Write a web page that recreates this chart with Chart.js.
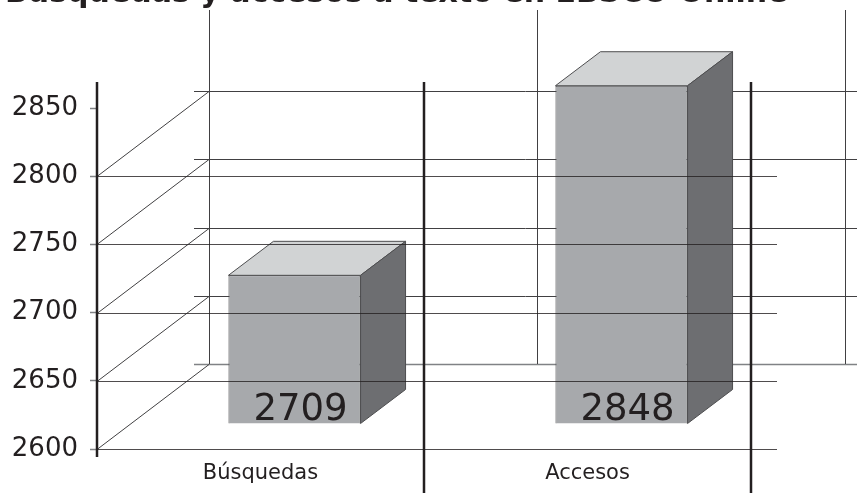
<!DOCTYPE html>
<html>
<head>
<meta charset="utf-8">
<title>Búsquedas y accesos</title>
<script src="https://cdn.jsdelivr.net/npm/chart.js@4"></script>
<style>
  html, body { margin: 0; padding: 0; background: #fff; overflow: hidden; }
  canvas { display: block; }
</style>
</head>
<body>
<canvas id="barChart" width="857" height="493"></canvas>
<script>
const chartTitle = 'Búsquedas y accesos a texto en EBSCO Online';
const categories = ['Búsquedas', 'Accesos'];
const values = [2709, 2848];
const yTicks = [2600, 2650, 2700, 2750, 2800, 2850];

const FONT = '"DejaVu Sans", sans-serif';
const INK = '#231f20';
// floor depth of the fake 3D box, and where the bar stands on it
const depthX = 112, depthY = -85;
const barDx = 34, barDy = -25;
const boxDx = 45, boxDy = -34;

function line(ctx, x1, y1, x2, y2, color, width) {
    ctx.strokeStyle = color;
    ctx.lineWidth = width;
    ctx.beginPath();
    ctx.moveTo(x1, y1);
    ctx.lineTo(x2, y2);
    ctx.stroke();
}

function poly(ctx, pts, fill) {
    ctx.fillStyle = fill;
    ctx.strokeStyle = '#4d4d4f';
    ctx.lineWidth = 1;
    ctx.beginPath();
    pts.forEach((p, i) => i ? ctx.lineTo(p[0], p[1]) : ctx.moveTo(p[0], p[1]));
    ctx.closePath();
    ctx.fill();
    ctx.stroke();
}

const fake3d = {
    id: 'fake3d',
    beforeDatasetsDraw(chart) {
        const ctx = chart.ctx, y = chart.scales.y, area = chart.chartArea;
        ctx.save();
        // back wall and floor lines
        yTicks.slice(0, -1).forEach(v => {
            const py = Math.round(y.getPixelForValue(v)) + 0.5;
            line(ctx, area.left + depthX - 15, py + depthY, 857, py + depthY, v === 2600 ? '#808285' : '#414042', v === 2600 ? 1.5 : 1);
            line(ctx, area.left, py, area.left + depthX, py + depthY, '#414042', 1);
        });
        const backBottom = y.getPixelForValue(yTicks[0]) + depthY;
        const catW = (area.right - area.left) / categories.length;
        [area.left + depthX, area.left + catW + depthX + 1, area.right + 94].forEach(x => {
            line(ctx, x + 0.5, 10, x + 0.5, backBottom, '#414042', 1);
        });
        ctx.restore();
    },
    beforeDatasetDraw(chart, args) {
        const ctx = chart.ctx;
        ctx.save();
        ctx.translate(barDx, barDy);
        args.meta.data.forEach(bar => {
            const l = bar.x - bar.width / 2, r = bar.x + bar.width / 2;
            poly(ctx, [[l, bar.y], [l + boxDx, bar.y + boxDy], [r + boxDx, bar.y + boxDy], [r, bar.y]], '#d1d3d4');
            poly(ctx, [[r, bar.y], [r + boxDx, bar.y + boxDy], [r + boxDx, bar.base + boxDy], [r, bar.base]], '#6d6e71');
        });
    },
    afterDatasetDraw(chart) {
        chart.ctx.restore();
    },
    afterDatasetsDraw(chart) {
        const ctx = chart.ctx, y = chart.scales.y, area = chart.chartArea;
        ctx.save();
        // front grid runs over the bars
        yTicks.slice(0, -1).forEach(v => {
            const py = Math.round(y.getPixelForValue(v)) + 0.5;
            line(ctx, area.left, py, 777, py, 'rgba(35,31,32,0.8)', 1);
        });
        line(ctx, area.left, 82, area.left, 457, INK, 2.5);
        const catW = (area.right - area.left) / categories.length;
        categories.forEach((c, i) => {
            const x = area.left + catW * (i + 1);
            line(ctx, x, 82, x, 493, INK, 2.5);
        });
        // value printed on the front of each bar
        ctx.fillStyle = INK;
        ctx.font = '37px ' + FONT;
        ctx.textAlign = 'right';
        ctx.textBaseline = 'alphabetic';
        chart.getDatasetMeta(0).data.forEach((bar, i) => {
            ctx.fillText(String(values[i]), bar.x + bar.width / 2 + barDx - 13, bar.base + barDy - 4);
        });
        // the title is cut off by the top of the page
        ctx.font = 'bold 30px ' + FONT;
        ctx.textAlign = 'left';
        ctx.fillText(chartTitle, 5, 2, 800);
        ctx.restore();
    }
};

document.addEventListener('DOMContentLoaded', function () {
    new Chart(document.getElementById('barChart'), {
        type: 'bar',
        data: {
            labels: categories,
            datasets: [{
                data: values,
                base: yTicks[0],
                backgroundColor: '#a7a9ac',
                borderColor: '#4d4d4f',
                borderWidth: 1,
                barPercentage: 1,
                categoryPercentage: 0.404,
                clip: false
            }]
        },
        plugins: [fake3d],
        options: {
            responsive: false,
            animation: false,
            layout: { padding: { top: 108, right: 106, left: 0, bottom: 0 } },
            plugins: { legend: { display: false }, tooltip: { enabled: false } },
            scales: {
                x: {
                    grid: { display: false },
                    border: { display: false },
                    ticks: { color: INK, font: { family: FONT, size: 21 }, padding: 4, maxRotation: 0 },
                    afterFit(scale) { scale.height = 44; }
                },
                y: {
                    min: yTicks[0],
                    max: yTicks[yTicks.length - 1],
                    afterBuildTicks(scale) { scale.ticks = yTicks.map(v => ({ value: v })); },
                    grid: { drawOnChartArea: false, tickLength: 7, tickColor: '#808285', tickWidth: 1.5 },
                    border: { display: false },
                    ticks: {
                        color: INK,
                        font: { family: FONT, size: 26 },
                        padding: 12,
                        callback: v => String(v)
                    },
                    afterFit(scale) { scale.width = 97; }
                }
            }
        }
    });
});
</script>
</body>
</html>
